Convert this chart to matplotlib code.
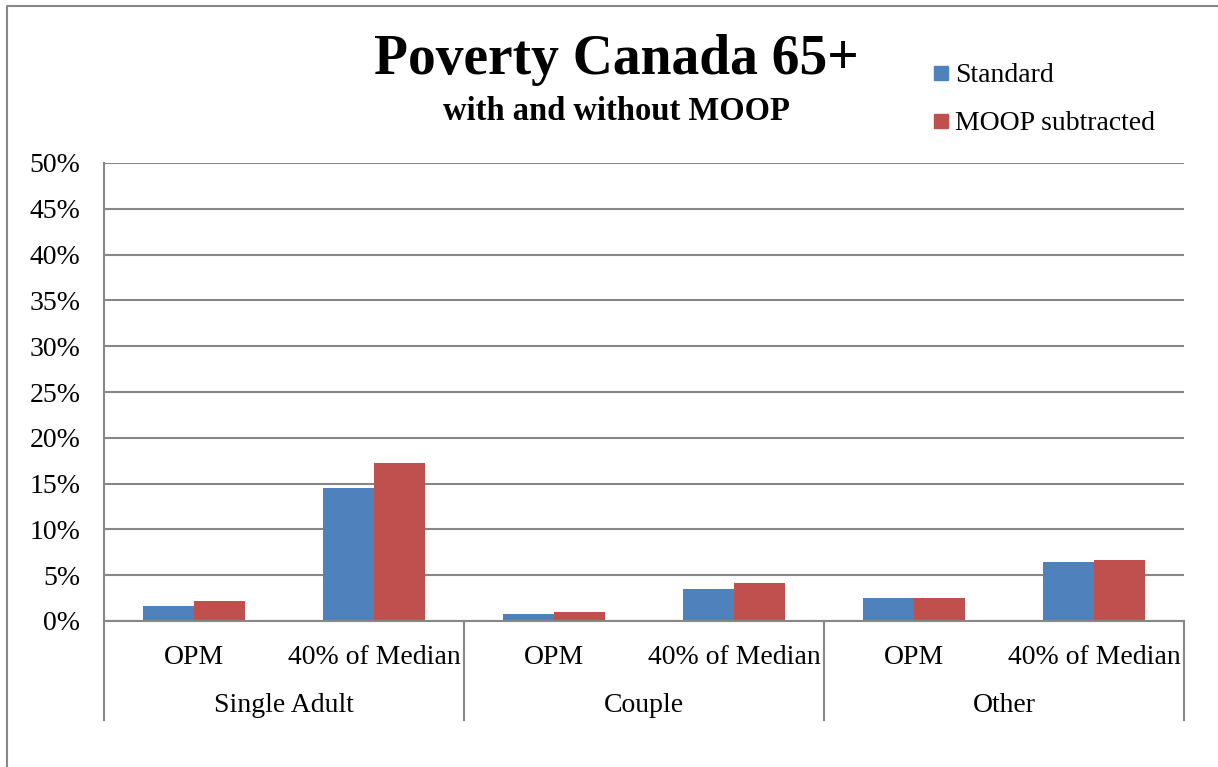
import matplotlib
matplotlib.use("Agg")
import matplotlib.pyplot as plt
from matplotlib.patches import Rectangle
from matplotlib.lines import Line2D
import numpy as np

groups = ["Single Adult", "Couple", "Other"]
measures = ["OPM", "40% of Median"]
series_names = ["Standard", "MOOP subtracted"]
standard = [1.6, 14.55, 0.73, 3.5, 2.55, 6.4]
moop = [2.15, 17.2, 0.95, 4.2, 2.55, 6.7]
yticks = [0, 5, 10, 15, 20, 25, 30, 35, 40, 45, 50]

colors = ["#4F81BD", "#C0504D"]
grid_c = "#878787"
font = ["Liberation Serif", "DejaVu Serif"]
plt.rcParams["font.family"] = font

W, H = 1218, 767
fig = plt.figure(figsize=(W / 100, H / 100), dpi=100)
fig.patch.set_facecolor("white")

L, R, T, B = 104, 1184, 163, 621
ax = fig.add_axes([L / W, 1 - B / H, (R - L) / W, (B - T) / H])

n = len(standard)
x = np.arange(n) + 0.5
w = 1 / 3.5
ax.bar(x - w / 2, standard, w, color=colors[0], edgecolor="none", zorder=3, label=series_names[0])
ax.bar(x + w / 2, moop, w, color=colors[1], edgecolor="none", zorder=3, label=series_names[1])

ax.set_xlim(0, n)
ax.set_ylim(0, 50)
ax.set_yticks(yticks)
ax.set_yticklabels([f"{v}%" for v in yticks], fontsize=20)
ax.tick_params(axis="y", length=0, pad=17)
ax.tick_params(axis="x", length=0, labelbottom=False)
ax.yaxis.grid(True, color=grid_c, linewidth=1.5, zorder=0)
for s in ["top", "right"]:
    ax.spines[s].set_visible(False)
ax.spines["left"].set_color(grid_c)
ax.spines["left"].set_linewidth(1.5)
ax.spines["bottom"].set_color(grid_c)
ax.spines["bottom"].set_linewidth(1.5)
ax.spines["bottom"].set_zorder(4)

# category labels
trans = ax.get_xaxis_transform()
for i in range(n):
    ax.text(x[i], -(657 - B) / (B - T), measures[i % 2], transform=trans,
            ha="center", va="center", fontsize=20)
for g, name in enumerate(groups):
    ax.text(2 * g + 1, -(706 - B) / (B - T), name, transform=trans,
            ha="center", va="center", fontsize=20)
for g in range(len(groups) + 1):
    ax.plot([2 * g, 2 * g], [0, -(720 - B) / (B - T)], transform=trans,
            color=grid_c, linewidth=1.5, clip_on=False)

# title
fig.text(616 / W, 1 - 60 / H, "Poverty Canada 65+", ha="center", va="center",
         fontsize=40, fontweight="bold")
fig.text(616 / W, 1 - 111 / H, "with and without MOOP", ha="center", va="center",
         fontsize=23.5, fontweight="bold")

# legend
for k, (nm, c) in enumerate(zip(series_names, colors)):
    yc = 73 + 48 * k
    fig.patches.append(Rectangle((934 / W, 1 - (yc + 7) / H), 14 / W, 14 / H,
                                 transform=fig.transFigure, color=c))
    fig.text(955 / W, 1 - (yc + 2) / H, nm, ha="left", va="center", fontsize=20)

# outer border (top and left)
fig.lines.append(Line2D([7 / W, 7 / W, 1], [0, 1 - 6 / H, 1 - 6 / H],
                        transform=fig.transFigure, color=grid_c, linewidth=1.5))

fig.savefig("out.png", dpi=100)
